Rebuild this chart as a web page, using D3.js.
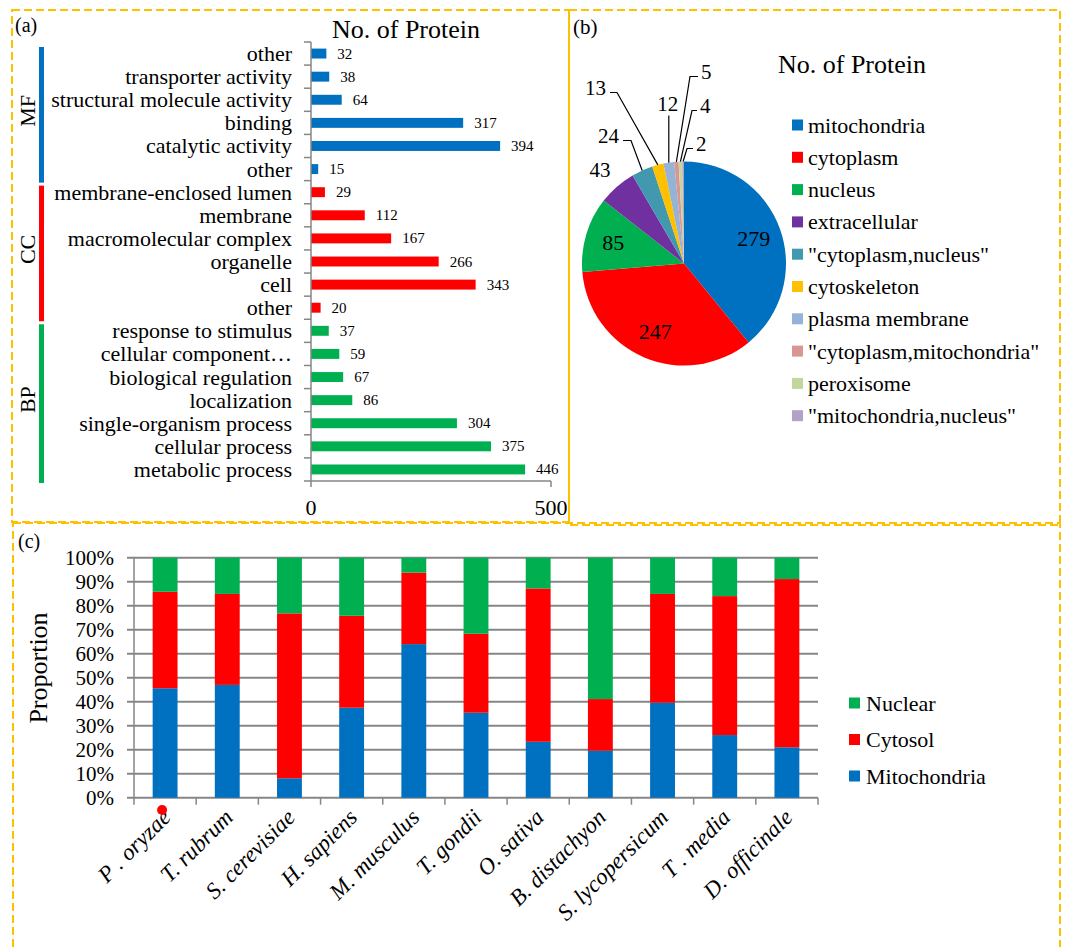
<!DOCTYPE html>
<html>
<head>
<meta charset="utf-8">
<script src="https://cdn.jsdelivr.net/npm/d3@7"></script>
<style>
  html, body { margin: 0; padding: 0; background: #fff; }
  svg { display: block; }
  text { font-family: "Liberation Serif", "Times New Roman", serif; fill: #000; }
</style>
</head>
<body>
<svg id="fig" width="1068" height="947" font-family="Liberation Serif, Times New Roman, serif"></svg>
<script>
// ---------- (a) GO annotation counts ----------
const goTerms = [
  "other", "transporter activity", "structural molecule activity", "binding", "catalytic activity", "other",
  "membrane-enclosed lumen", "membrane", "macromolecular complex", "organelle", "cell", "other",
  "response to stimulus", "cellular component…", "biological regulation", "localization",
  "single-organism process", "cellular process", "metabolic process"
];
const goCounts = [32, 38, 64, 317, 394, 15, 29, 112, 167, 266, 343, 20, 37, 59, 67, 86, 304, 375, 446];
const goGroupOf = ["MF","MF","MF","MF","MF","MF","CC","CC","CC","CC","CC","CC","BP","BP","BP","BP","BP","BP","BP"];
const goGroups = ["MF", "CC", "BP"];
const goTicks = [0, 500];

// ---------- (b) subcellular localisation ----------
const locNames = ["mitochondria", "cytoplasm", "nucleus", "extracellular", "\"cytoplasm,nucleus\"",
  "cytoskeleton", "plasma membrane", "\"cytoplasm,mitochondria\"", "peroxisome", "\"mitochondria,nucleus\""];
const locCounts = [279, 247, 85, 43, 24, 13, 12, 5, 4, 2];

// ---------- (c) proportions across species ----------
const species = ["P . oryzae", "T. rubrum", "S. cerevisiae", "H. sapiens", "M. musculus", "T. gondii",
  "O. sativa", "B. distachyon", "S. lycopersicum", "T . media", "D. officinale"];
const mitoPct    = [45.6, 47.0,  8.1, 37.5, 64.0, 35.4, 23.3, 19.6, 39.6, 26.1, 21.0];
const cytosolPct = [40.2, 37.9, 68.7, 38.3, 29.8, 32.9, 63.9, 21.5, 45.3, 57.9, 70.1];
const nuclearPct = [14.2, 15.1, 23.2, 24.2,  6.2, 31.7, 12.8, 58.9, 15.1, 16.0,  8.9];
const pctTicks = [0, 10, 20, 30, 40, 50, 60, 70, 80, 90, 100];

// ---------- styling ----------
const groupColor = { MF: "#0070C0", CC: "#FF0000", BP: "#00B050" };
const locColors = ["#0070C0", "#FF0000", "#00B050", "#7030A0", "#4198AF",
  "#FFC000", "#95B3D7", "#D99694", "#C3D69B", "#B3A2C7"];
const compColors = { Mitochondria: "#0070C0", Cytosol: "#FF0000", Nuclear: "#00B050" };
const axisGray = "#868686";
const frameColor = "#FFC000";

const svg = d3.select("#fig");

// dashed panel frames
const frames = [
  { x0: 12, y0: 10, x1: 569, y1: 522 },
  { x0: 569, y0: 10, x1: 1060, y1: 525 },
  { x0: 13, y0: 523, x1: 1060, y1: 960 }
];
svg.append("g").selectAll("rect").data(frames).join("rect")
  .attr("x", d => d.x0).attr("y", d => d.y0)
  .attr("width", d => d.x1 - d.x0).attr("height", d => d.y1 - d.y0)
  .attr("fill", "none").attr("stroke", frameColor).attr("stroke-width", 2)
  .attr("stroke-dasharray", "8,4");

// panel letters
svg.append("text").attr("x", 15).attr("y", 32).attr("font-size", 20).text("(a)");
svg.append("text").attr("x", 573).attr("y", 34).attr("font-size", 21).text("(b)");
svg.append("text").attr("x", 18).attr("y", 548).attr("font-size", 20).text("(c)");

// ================= (a) horizontal bars =================
{
  const g = svg.append("g");
  const x = d3.scaleLinear().domain([0, 500]).range([311, 551]);
  const idx = d3.range(goTerms.length);
  const y = d3.scaleBand().domain(idx).range([42, 481]).paddingInner(0.57).paddingOuter(0.285);
  const step = y.step();

  g.append("text").attr("x", 406).attr("y", 38).attr("text-anchor", "middle")
    .attr("font-size", 26).text("No. of Protein");

  g.selectAll("rect.bar").data(idx).join("rect").attr("class", "bar")
    .attr("x", x(0)).attr("y", i => y(i))
    .attr("width", i => x(goCounts[i]) - x(0)).attr("height", y.bandwidth())
    .attr("fill", i => groupColor[goGroupOf[i]]);

  g.selectAll("text.val").data(idx).join("text").attr("class", "val")
    .attr("x", i => x(goCounts[i]) + 11).attr("y", i => y(i) + y.bandwidth() / 2)
    .attr("dominant-baseline", "central").attr("font-size", 15)
    .text(i => goCounts[i]);

  g.selectAll("text.cat").data(idx).join("text").attr("class", "cat")
    .attr("x", 292).attr("y", i => y(i) + y.bandwidth() / 2)
    .attr("text-anchor", "end").attr("dominant-baseline", "central").attr("font-size", 22)
    .text(i => goTerms[i]);

  // axes
  const top = 42, bottom = 481;
  g.append("line").attr("x1", 311).attr("x2", 311).attr("y1", top).attr("y2", bottom)
    .attr("stroke", axisGray).attr("stroke-width", 1.5);
  g.append("line").attr("x1", 311).attr("x2", x(500)).attr("y1", bottom).attr("y2", bottom)
    .attr("stroke", axisGray).attr("stroke-width", 1.5);
  g.selectAll("line.ytick").data(d3.range(goTerms.length + 1)).join("line").attr("class", "ytick")
    .attr("x1", 304).attr("x2", 311)
    .attr("y1", k => top + (bottom - top) * k / goTerms.length)
    .attr("y2", k => top + (bottom - top) * k / goTerms.length)
    .attr("stroke", axisGray).attr("stroke-width", 1.5);
  g.selectAll("line.xtick").data(goTicks).join("line").attr("class", "xtick")
    .attr("x1", d => x(d)).attr("x2", d => x(d)).attr("y1", bottom).attr("y2", bottom + 6)
    .attr("stroke", axisGray).attr("stroke-width", 1.5);
  g.selectAll("text.xlab").data(goTicks).join("text").attr("class", "xlab")
    .attr("x", d => x(d)).attr("y", 515).attr("text-anchor", "middle").attr("font-size", 22)
    .text(d => d);

  // ontology brackets
  goGroups.forEach(grp => {
    const rows = idx.filter(i => goGroupOf[i] === grp);
    const y0 = top + step * rows[0] + 5;
    const y1 = top + step * (rows[rows.length - 1] + 1) + 2;
    g.append("rect").attr("x", 39).attr("y", y0).attr("width", 5).attr("height", y1 - y0)
      .attr("fill", groupColor[grp]);
    const cy = (y0 + y1) / 2 - 4;
    g.append("text").attr("transform", `translate(27,${cy}) rotate(-90)`)
      .attr("text-anchor", "middle").attr("dominant-baseline", "central")
      .attr("font-size", 22).text(grp);
  });
}

// ================= (b) pie =================
{
  const g = svg.append("g");
  const cx = 684, cy = 263.5, R = 102;
  g.append("text").attr("x", 852).attr("y", 73).attr("text-anchor", "middle")
    .attr("font-size", 26).text("No. of Protein");

  const pie = d3.pie().sort(null).value(d => d)(locCounts);
  const arc = d3.arc().innerRadius(0).outerRadius(R);
  const pg = g.append("g").attr("transform", `translate(${cx},${cy})`);
  pg.selectAll("path").data(pie).join("path")
    .attr("d", arc).attr("fill", (d, i) => locColors[i]);

  // in-slice labels for the three largest slices
  const inner = d3.arc().innerRadius(0).outerRadius(R * 1.45);
  pg.selectAll("text.in").data(pie.slice(0, 3)).join("text").attr("class", "in")
    .attr("transform", d => `translate(${inner.centroid(d)})`)
    .attr("text-anchor", "middle").attr("dominant-baseline", "central")
    .attr("font-size", 22).text(d => d.data);

  // callouts for the small slices: elbow point and arm relative to the pie centre
  const callouts = [
    { i: 3, elbow: [-84, -94], arm: 0, side: "none" },
    { i: 4, elbow: [-53, -123], arm: -8, side: "left" },
    { i: 5, elbow: [-67, -171], arm: -7, side: "left" },
    { i: 6, elbow: null, top: -148, side: "up" },
    { i: 7, elbow: [6, -187], arm: 8, side: "right" },
    { i: 8, elbow: [8, -153], arm: 5, side: "right" },
    { i: 9, elbow: [3, -115], arm: 6, side: "right" }
  ];
  const edge = d3.arc().innerRadius(R).outerRadius(R);
  callouts.forEach(c => {
    const d = pie[c.i];
    const [ex, ey] = edge.centroid(d);
    if (c.side === "none") {
      pg.append("text").attr("x", c.elbow[0]).attr("y", c.elbow[1])
        .attr("text-anchor", "middle").attr("dominant-baseline", "central")
        .attr("font-size", 21).text(d.data);
      return;
    }
    if (c.side === "up") {
      pg.append("line").attr("x1", ex).attr("y1", ey).attr("x2", ex).attr("y2", c.top)
        .attr("stroke", "#000").attr("stroke-width", 1.2);
      pg.append("text").attr("x", ex - 1).attr("y", c.top - 12)
        .attr("text-anchor", "middle").attr("dominant-baseline", "central")
        .attr("font-size", 21).text(d.data);
      return;
    }
    const [bx, by] = c.elbow;
    pg.append("polyline")
      .attr("points", `${ex},${ey} ${bx},${by} ${bx + c.arm},${by}`)
      .attr("fill", "none").attr("stroke", "#000").attr("stroke-width", 1.2);
    const left = c.side === "left";
    pg.append("text").attr("x", bx + c.arm + (left ? -4 : 3)).attr("y", by - 5)
      .attr("text-anchor", left ? "end" : "start").attr("dominant-baseline", "central")
      .attr("font-size", 21).text(d.data);
  });

  // legend
  const lg = g.append("g");
  const ly = d3.scaleLinear().domain([0, 1]).range([125, 157.3]);
  locNames.forEach((n, i) => {
    lg.append("rect").attr("x", 792).attr("y", ly(i) - 5.5).attr("width", 11).attr("height", 11)
      .attr("fill", locColors[i]);
    lg.append("text").attr("x", 808).attr("y", ly(i)).attr("dominant-baseline", "central")
      .attr("font-size", 22).text(n);
  });
}

// ================= (c) 100% stacked columns =================
{
  const g = svg.append("g");
  const x = d3.scaleBand().domain(species).range([134, 818]).paddingInner(0.6).paddingOuter(0.3);
  const y = d3.scaleLinear().domain([0, 100]).range([797.7, 557.7]);
  const rows = species.map((s, i) => ({
    sp: s, Mitochondria: mitoPct[i], Cytosol: cytosolPct[i], Nuclear: nuclearPct[i]
  }));
  const keys = ["Mitochondria", "Cytosol", "Nuclear"];
  const stacked = d3.stack().keys(keys)(rows);

  // gridlines
  g.selectAll("line.grid").data(pctTicks).join("line").attr("class", "grid")
    .attr("x1", 127).attr("x2", 818).attr("y1", d => y(d)).attr("y2", d => y(d))
    .attr("stroke", axisGray).attr("stroke-width", 2);
  g.append("line").attr("x1", 134).attr("x2", 134).attr("y1", y(100)).attr("y2", y(0))
    .attr("stroke", axisGray).attr("stroke-width", 1.5);
  const edges = d3.range(species.length + 1).map(k => 134 + x.step() * k);
  g.selectAll("line.xt").data(edges).join("line").attr("class", "xt")
    .attr("x1", d => d).attr("x2", d => d).attr("y1", y(0)).attr("y2", y(0) + 7)
    .attr("stroke", axisGray).attr("stroke-width", 1.5);

  g.selectAll("text.yt").data(pctTicks).join("text").attr("class", "yt")
    .attr("x", 114).attr("y", d => y(d)).attr("text-anchor", "end")
    .attr("dominant-baseline", "central").attr("font-size", 21).text(d => d + "%");

  g.append("text").attr("transform", `translate(38,668) rotate(-90)`)
    .attr("text-anchor", "middle").attr("dominant-baseline", "central")
    .attr("font-size", 26).text("Proportion");

  g.selectAll("g.layer").data(stacked).join("g").attr("class", "layer")
    .attr("fill", d => compColors[d.key])
    .selectAll("rect").data(d => d).join("rect")
    .attr("x", d => x(d.data.sp)).attr("width", x.bandwidth())
    .attr("y", d => y(d[1])).attr("height", d => y(d[0]) - y(d[1]));

  g.selectAll("text.sp").data(species).join("text").attr("class", "sp")
    .attr("transform", s => `translate(${x(s) + x.bandwidth() / 2 + 7},${y(0) + 21}) rotate(-45)`)
    .attr("text-anchor", "end").attr("font-size", 23).attr("font-style", "italic")
    .text(s => s);

  // marker under the focal species
  g.append("circle").attr("cx", x(species[0]) + x.bandwidth() / 2 - 3).attr("cy", 810)
    .attr("r", 5).attr("fill", "#FF0000");

  // legend
  const legendKeys = ["Nuclear", "Cytosol", "Mitochondria"];
  const ly = d3.scaleLinear().domain([0, 1]).range([703, 739.5]);
  legendKeys.forEach((k, i) => {
    g.append("rect").attr("x", 849).attr("y", ly(i) - 5.5).attr("width", 11).attr("height", 11)
      .attr("fill", compColors[k]);
    g.append("text").attr("x", 866).attr("y", ly(i)).attr("dominant-baseline", "central")
      .attr("font-size", 22).text(k);
  });
}
</script>
</body>
</html>
